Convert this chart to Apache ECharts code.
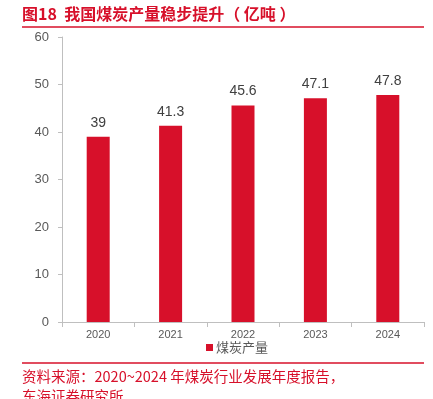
<!DOCTYPE html>
<html>
<head>
<meta charset="utf-8">
<script src="https://cdn.jsdelivr.net/npm/echarts@6/dist/echarts.min.js"></script>
<style>
    html, body { margin: 0; padding: 0; background: #fff; }
    #chart { width: 433px; height: 399px; }
</style>
</head>
<body>
<div id="chart"></div>
<script>
const years = ["2020", "2021", "2022", "2023", "2024"];
const output = [39, 41.3, 45.6, 47.1, 47.8];
const seriesName = "煤炭产量";

const red = "#d7102a";
const font = "'Noto Sans CJK SC', 'Noto Sans', sans-serif";
const numFont = "'Liberation Sans', Arial, sans-serif";

const chart = echarts.init(document.getElementById("chart"), null, { renderer: "canvas" });

chart.setOption({
    animation: false,
    title: [
        {
            text: "图18  我国煤炭产量稳步提升（ 亿吨 ）",
            left: 22,
            top: 6,
            padding: 0,
            textStyle: { color: red, fontSize: 16, fontWeight: "bold", fontFamily: font },
        },
        {
            text: "资料来源：2020~2024 年煤炭行业发展年度报告，\n东海证券研究所",
            left: 22,
            top: 366,
            padding: 0,
            textStyle: { color: red, fontSize: 14.5, fontWeight: "normal", fontFamily: font, lineHeight: 20 },
        },
    ],
    graphic: [
        { type: "line", shape: { x1: 22, y1: 27, x2: 424, y2: 27 }, style: { stroke: red, lineWidth: 1.5 } },
        { type: "line", shape: { x1: 22, y1: 363, x2: 424, y2: 363 }, style: { stroke: red, lineWidth: 1.5 } },
    ],
    legend: {
        data: [seriesName],
        top: 341,
        left: 206,
        padding: 0,
        itemWidth: 7,
        itemHeight: 7,
        icon: "rect",
        textStyle: { color: "#595959", fontSize: 13, fontFamily: font, padding: [0, 0, 0, -2] },
    },
    grid: { left: 62, right: 9, top: 37, bottom: 77 },
    xAxis: {
        type: "category",
        data: years,
        axisLine: { lineStyle: { color: "#bfbfbf" } },
        axisTick: { show: true, lineStyle: { color: "#bfbfbf" } },
        axisLabel: { color: "#595959", fontSize: 11, margin: 7, fontFamily: numFont },
    },
    yAxis: {
        type: "value",
        min: 0,
        max: 60,
        interval: 10,
        axisLine: { show: true, lineStyle: { color: "#bfbfbf" } },
        axisTick: { show: true, length: 4, lineStyle: { color: "#bfbfbf" } },
        splitLine: { show: false },
        axisLabel: { color: "#595959", fontSize: 13, margin: 13, fontFamily: numFont },
    },
    series: [
        {
            name: seriesName,
            type: "bar",
            data: output,
            barWidth: 23,
            itemStyle: { color: red },
            label: {
                show: true,
                position: "top",
                distance: 7,
                color: "#404040",
                fontSize: 14,
                fontFamily: numFont,
            },
        },
    ],
});
</script>
</body>
</html>
